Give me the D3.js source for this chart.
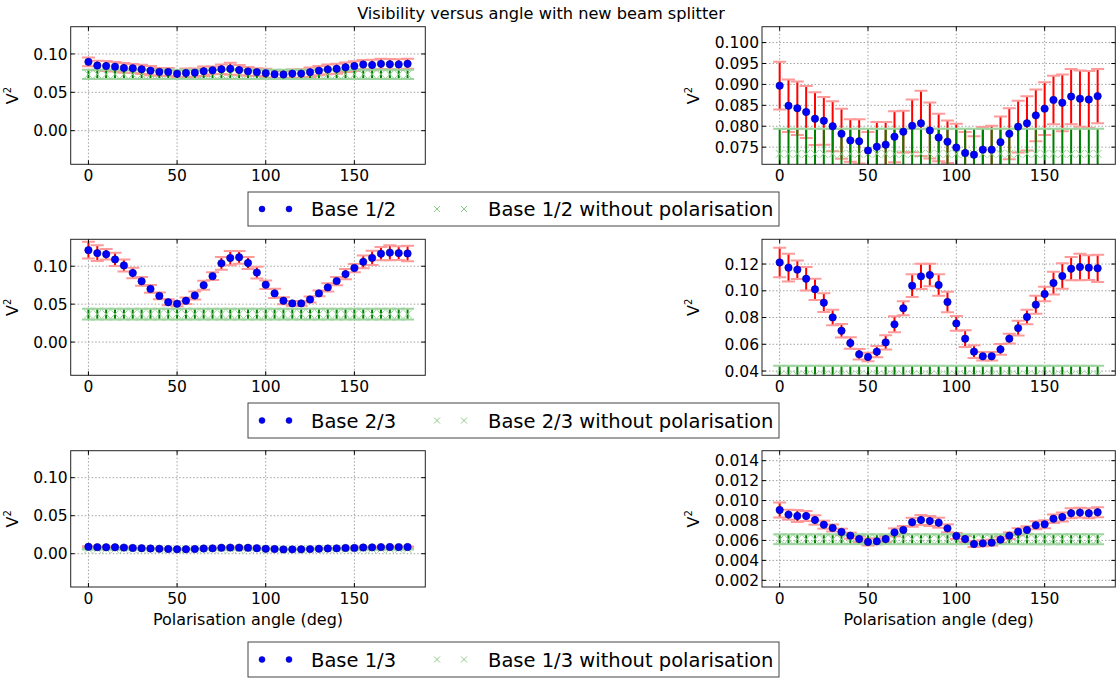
<!DOCTYPE html>
<html>
<head>
<meta charset="utf-8">
<script src="https://cdn.jsdelivr.net/npm/d3@7"></script>
<style>
  html, body { margin: 0; padding: 0; background: #fff; }
  svg { display: block; font-family: "DejaVu Sans", sans-serif; }
</style>
</head>
<body>
<svg id="chart" width="1116" height="680"></svg>
<script>
// ---------------- DATA ----------------
const angles = [0,5,10,15,20,25,30,35,40,45,50,55,60,65,70,75,80,85,90,95,100,105,110,115,120,125,130,135,140,145,150,155,160,165,170,175,180];

const base12 = [0.0897,0.0849,0.0843,0.0834,0.0818,0.0813,0.0800,0.0782,0.0766,0.0764,0.0742,0.0751,0.0756,0.0775,0.0787,0.0801,0.0807,0.0790,0.0773,0.0763,0.0749,0.0736,0.0732,0.0744,0.0744,0.0762,0.0782,0.0799,0.0807,0.0826,0.0842,0.0863,0.0856,0.0871,0.0866,0.0864,0.0872];
const base12Err = [0.0057,0.0063,0.0064,0.0062,0.0063,0.0057,0.0060,0.0060,0.0051,0.0053,0.0044,0.0059,0.0054,0.0061,0.0050,0.0063,0.0078,0.0067,0.0057,0.0051,0.0057,0.0050,0.0044,0.0054,0.0057,0.0061,0.0061,0.0062,0.0065,0.0062,0.0063,0.0058,0.0068,0.0066,0.0067,0.0068,0.0065];
const base12NoPol = [0.0734,0.0734,0.0734,0.0734,0.0734,0.0734,0.0734,0.0734,0.0734,0.0734,0.0734,0.0734,0.0734,0.0734,0.0734,0.0734,0.0734,0.0734,0.0734,0.0734,0.0734,0.0734,0.0734,0.0734,0.0734,0.0734,0.0734,0.0734,0.0734,0.0734,0.0734,0.0734,0.0734,0.0734,0.0734,0.0734,0.0734];
const base12NoPolErr = [0.0060,0.0060,0.0060,0.0060,0.0060,0.0060,0.0060,0.0060,0.0060,0.0060,0.0060,0.0060,0.0060,0.0060,0.0060,0.0060,0.0060,0.0060,0.0060,0.0060,0.0060,0.0060,0.0060,0.0060,0.0060,0.0060,0.0060,0.0060,0.0060,0.0060,0.0060,0.0060,0.0060,0.0060,0.0060,0.0060,0.0060];

const base23 = [0.1212,0.1173,0.1158,0.1090,0.1011,0.0911,0.0801,0.0701,0.0609,0.0525,0.0505,0.0545,0.0614,0.0749,0.0869,0.1038,0.1108,0.1118,0.1043,0.0916,0.0756,0.0642,0.0545,0.0510,0.0510,0.0562,0.0642,0.0721,0.0804,0.0896,0.0976,0.1058,0.1110,0.1165,0.1178,0.1173,0.1168];
const base23Err = [0.0110,0.0104,0.0069,0.0088,0.0079,0.0070,0.0058,0.0050,0.0043,0.0039,0.0032,0.0042,0.0053,0.0060,0.0052,0.0085,0.0094,0.0084,0.0080,0.0077,0.0055,0.0062,0.0047,0.0032,0.0032,0.0040,0.0037,0.0055,0.0055,0.0067,0.0055,0.0085,0.0095,0.0087,0.0099,0.0092,0.0102];
const base23NoPol = [0.0369,0.0369,0.0369,0.0369,0.0369,0.0369,0.0369,0.0369,0.0369,0.0369,0.0369,0.0369,0.0369,0.0369,0.0369,0.0369,0.0369,0.0369,0.0369,0.0369,0.0369,0.0369,0.0369,0.0369,0.0369,0.0369,0.0369,0.0369,0.0369,0.0369,0.0369,0.0369,0.0369,0.0369,0.0369,0.0369,0.0369];
const base23NoPolErr = [0.0070,0.0070,0.0070,0.0070,0.0070,0.0070,0.0070,0.0070,0.0070,0.0070,0.0070,0.0070,0.0070,0.0070,0.0070,0.0070,0.0070,0.0070,0.0070,0.0070,0.0070,0.0070,0.0070,0.0070,0.0070,0.0070,0.0070,0.0070,0.0070,0.0070,0.0070,0.0070,0.0070,0.0070,0.0070,0.0070,0.0070];

const base13 = [0.00905,0.00859,0.00845,0.00845,0.00805,0.00758,0.00725,0.00685,0.00648,0.00614,0.00584,0.00591,0.00614,0.00681,0.00705,0.00782,0.00805,0.00795,0.00778,0.00721,0.00645,0.00614,0.00564,0.00571,0.00578,0.00608,0.00648,0.00688,0.00705,0.00752,0.00762,0.00818,0.00835,0.00872,0.00879,0.00872,0.00882];
const base13Err = [0.00075,0.00050,0.00060,0.00050,0.00047,0.00040,0.00035,0.00033,0.00030,0.00030,0.00035,0.00030,0.00030,0.00040,0.00040,0.00045,0.00050,0.00050,0.00050,0.00040,0.00030,0.00030,0.00030,0.00030,0.00030,0.00030,0.00033,0.00035,0.00038,0.00040,0.00040,0.00042,0.00045,0.00050,0.00050,0.00050,0.00050];
const base13NoPol = [0.00612,0.00612,0.00612,0.00612,0.00612,0.00612,0.00612,0.00612,0.00612,0.00612,0.00612,0.00612,0.00612,0.00612,0.00612,0.00612,0.00612,0.00612,0.00612,0.00612,0.00612,0.00612,0.00612,0.00612,0.00612,0.00612,0.00612,0.00612,0.00612,0.00612,0.00612,0.00612,0.00612,0.00612,0.00612,0.00612,0.00612];
const base13NoPolErr = [0.00049,0.00049,0.00049,0.00049,0.00049,0.00049,0.00049,0.00049,0.00049,0.00049,0.00049,0.00049,0.00049,0.00049,0.00049,0.00049,0.00049,0.00049,0.00049,0.00049,0.00049,0.00049,0.00049,0.00049,0.00049,0.00049,0.00049,0.00049,0.00049,0.00049,0.00049,0.00049,0.00049,0.00049,0.00049,0.00049,0.00049];

const xTicks = [0, 50, 100, 150];
const leftYTicks = [0.00, 0.05, 0.10];
const right12YTicks = [0.075, 0.080, 0.085, 0.090, 0.095, 0.100];
const right23YTicks = [0.04, 0.06, 0.08, 0.10, 0.12];
const right13YTicks = [0.002, 0.004, 0.006, 0.008, 0.010, 0.012, 0.014];

const seriesNames = ["Base 1/2", "Base 2/3", "Base 1/3"];
const noPolSuffix = " without polarisation";
const titleText = "Visibility versus angle with new beam splitter";
const xLabelText = "Polarisation angle (deg)";

// ---------------- LAYOUT ----------------
const svg = d3.select("#chart");
const FONT = "DejaVu Sans";
const xDomain = [-10, 190];
const leftX = [70.7, 425.3];
const rightX = [762, 1115.3];
const rows = [[26.7, 164.3], [239.3, 375.3], [450.7, 587]];
const legendY = [[192, 226], [403, 438], [642, 677]];

const rowData = [
  { v: base12, e: base12Err, n: base12NoPol, ne: base12NoPolErr, rightDomain: [0.0709, 0.1038], rightTicks: right12YTicks, rightFmt: d3.format(".3f") },
  { v: base23, e: base23Err, n: base23NoPol, ne: base23NoPolErr, rightDomain: [0.0368, 0.1385], rightTicks: right23YTicks, rightFmt: d3.format(".2f") },
  { v: base13, e: base13Err, n: base13NoPol, ne: base13NoPolErr, rightDomain: [0.00133, 0.0150], rightTicks: right13YTicks, rightFmt: d3.format(".3f") }
];
const leftDomain = [-0.0438, 0.1355];

let clipId = 0;
function panel(xr, yr, yDomain, yTicks, yFmt, d, showXLabel) {
  const x = d3.scaleLinear().domain(xDomain).range(xr);
  const y = d3.scaleLinear().domain(yDomain).range([yr[1], yr[0]]);
  const g = svg.append("g");
  const id = "clip" + (clipId++);
  svg.append("defs").append("clipPath").attr("id", id)
    .append("rect").attr("x", xr[0]).attr("y", yr[0]).attr("width", xr[1] - xr[0]).attr("height", yr[1] - yr[0]);

  // grid
  const grid = g.append("g");
  grid.selectAll(".gx").data(xTicks).enter().append("line")
    .attr("x1", t => x(t)).attr("x2", t => x(t)).attr("y1", yr[0]).attr("y2", yr[1])
    .attr("stroke", "#8a8a8a").attr("stroke-width", 0.8).attr("stroke-dasharray", "1.5,2");
  grid.selectAll(".gy").data(yTicks).enter().append("line")
    .attr("x1", xr[0]).attr("x2", xr[1]).attr("y1", t => y(t)).attr("y2", t => y(t))
    .attr("stroke", "#8a8a8a").attr("stroke-width", 0.8).attr("stroke-dasharray", "1.5,2");

  const pts = angles.map((a, i) => ({ a, v: d.v[i], e: d.e[i], n: d.n[i], ne: d.ne[i] }));
  const plot = g.append("g").attr("clip-path", `url(#${id})`);
  const capW = 6.5;
  // red error bars
  plot.selectAll(".rb").data(pts).enter().append("line")
    .attr("x1", p => x(p.a)).attr("x2", p => x(p.a)).attr("y1", p => y(p.v - p.e)).attr("y2", p => y(p.v + p.e))
    .attr("stroke", "#ff0000").attr("stroke-width", 2);
  ["lo", "hi"].forEach(k => {
    plot.selectAll(".rc" + k).data(pts).enter().append("line")
      .attr("x1", p => x(p.a) - capW).attr("x2", p => x(p.a) + capW)
      .attr("y1", p => y(k === "lo" ? p.v - p.e : p.v + p.e)).attr("y2", p => y(k === "lo" ? p.v - p.e : p.v + p.e))
      .attr("stroke", "#ff9a9a").attr("stroke-width", 2);
  });
  // green error bars
  plot.selectAll(".gb").data(pts).enter().append("line")
    .attr("x1", p => x(p.a)).attr("x2", p => x(p.a)).attr("y1", p => y(p.n - p.ne)).attr("y2", p => y(p.n + p.ne))
    .attr("stroke", "#008000").attr("stroke-width", 2);
  ["lo", "hi"].forEach(k => {
    plot.selectAll(".gc" + k).data(pts).enter().append("line")
      .attr("x1", p => x(p.a) - capW).attr("x2", p => x(p.a) + capW)
      .attr("y1", p => y(k === "lo" ? p.n - p.ne : p.n + p.ne)).attr("y2", p => y(k === "lo" ? p.n - p.ne : p.n + p.ne))
      .attr("stroke", "#9fd39f").attr("stroke-width", 2);
  });
  // green x markers
  const s = 3.8;
  plot.selectAll(".xm").data(pts).enter().append("path")
    .attr("d", p => `M${x(p.a) - s},${y(p.n) - s}L${x(p.a) + s},${y(p.n) + s}M${x(p.a) - s},${y(p.n) + s}L${x(p.a) + s},${y(p.n) - s}`)
    .attr("stroke", "#8fd08f").attr("stroke-width", 1).attr("fill", "none");
  // blue dots
  plot.selectAll(".dot").data(pts).enter().append("circle")
    .attr("cx", p => x(p.a)).attr("cy", p => y(p.v)).attr("r", 3.7)
    .attr("fill", "#0000ff").attr("stroke", "#00008b").attr("stroke-width", 0.6);

  // frame
  g.append("rect").attr("x", xr[0]).attr("y", yr[0]).attr("width", xr[1] - xr[0]).attr("height", yr[1] - yr[0])
    .attr("fill", "none").attr("stroke", "#222").attr("stroke-width", 1);

  // ticks (inward, all sides) and labels
  const tl = 4;
  xTicks.forEach(t => {
    g.append("line").attr("x1", x(t)).attr("x2", x(t)).attr("y1", yr[1]).attr("y2", yr[1] - tl).attr("stroke", "#000");
    g.append("line").attr("x1", x(t)).attr("x2", x(t)).attr("y1", yr[0]).attr("y2", yr[0] + tl).attr("stroke", "#000");
    g.append("text").attr("x", x(t)).attr("y", yr[1] + 17).attr("text-anchor", "middle")
      .attr("font-family", FONT).attr("font-size", 15.5).attr("fill", "#000").text(t);
  });
  yTicks.forEach(t => {
    g.append("line").attr("x1", xr[0]).attr("x2", xr[0] + tl).attr("y1", y(t)).attr("y2", y(t)).attr("stroke", "#000");
    g.append("line").attr("x1", xr[1]).attr("x2", xr[1] - tl).attr("y1", y(t)).attr("y2", y(t)).attr("stroke", "#000");
    g.append("text").attr("x", xr[0] - 3).attr("y", y(t)).attr("dy", "0.36em").attr("text-anchor", "end")
      .attr("font-family", FONT).attr("font-size", 15.5).attr("fill", "#000").text(yFmt(t));
  });

  // y label V^2
  const cy = (yr[0] + yr[1]) / 2;
  const lx = xr[0] - 53 - (xr[0] > 500 ? 10 : 0);
  const yl = g.append("text").attr("transform", `translate(${lx},${cy}) rotate(-90)`)
    .attr("text-anchor", "middle").attr("font-family", FONT).attr("font-size", 16).attr("fill", "#000");
  yl.append("tspan").text("V");
  yl.append("tspan").attr("font-size", 10).attr("dy", -7).text("2");

  if (showXLabel) {
    g.append("text").attr("x", (xr[0] + xr[1]) / 2).attr("y", yr[1] + 38).attr("text-anchor", "middle")
      .attr("font-family", FONT).attr("font-size", 16).attr("fill", "#000").text(xLabelText);
  }
}

rowData.forEach((d, i) => {
  panel(leftX, rows[i], leftDomain, leftYTicks, d3.format(".2f"), d, i === 2);
  panel(rightX, rows[i], d.rightDomain, d.rightTicks, d.rightFmt, d, i === 2);
});

// legends
legendY.forEach((ly, i) => {
  const g = svg.append("g");
  g.append("rect").attr("x", 248).attr("y", ly[0]).attr("width", 531).attr("height", ly[1] - ly[0])
    .attr("fill", "#fff").attr("stroke", "#444").attr("stroke-width", 1);
  const cy = (ly[0] + ly[1]) / 2;
  [262, 289].forEach(cx => g.append("circle").attr("cx", cx).attr("cy", cy).attr("r", 3)
    .attr("fill", "#0000ff").attr("stroke", "#00008b").attr("stroke-width", 0.5));
  g.append("text").attr("x", 311).attr("y", cy).attr("dy", "0.36em").attr("font-family", FONT)
    .attr("font-size", 19.5).attr("fill", "#000").text(seriesNames[i]);
  const s = 3;
  [437, 464].forEach(cx => g.append("path")
    .attr("d", `M${cx - s},${cy - s}L${cx + s},${cy + s}M${cx - s},${cy + s}L${cx + s},${cy - s}`)
    .attr("stroke", "#88cc88").attr("stroke-width", 1).attr("fill", "none"));
  g.append("text").attr("x", 488).attr("y", cy).attr("dy", "0.36em").attr("font-family", FONT)
    .attr("font-size", 19.5).attr("fill", "#000").text(seriesNames[i] + noPolSuffix);
});

// title
svg.append("text").attr("x", 541).attr("y", 19).attr("text-anchor", "middle")
  .attr("font-family", FONT).attr("font-size", 16.2).attr("fill", "#000").text(titleText);
</script>
</body>
</html>
